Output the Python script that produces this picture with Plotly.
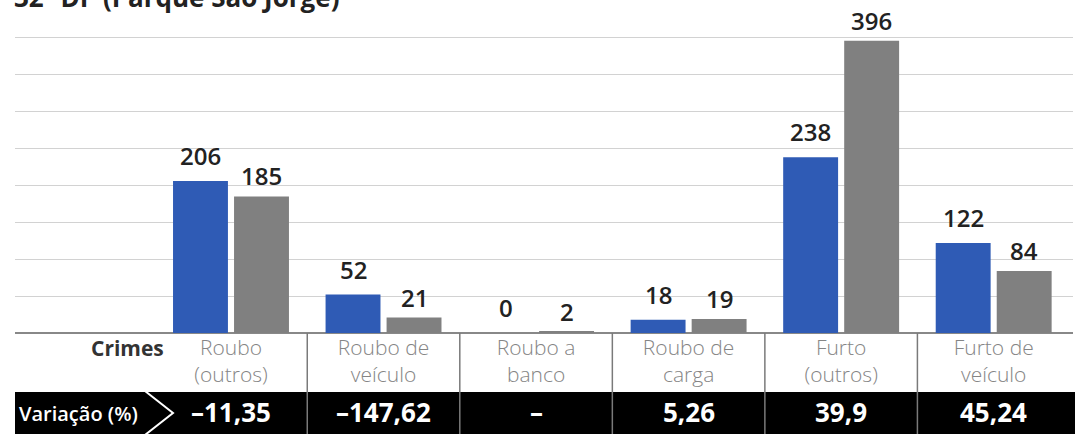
import plotly.graph_objects as go

title_text = "32º DP (Parque São Jorge)"
categories = ["Roubo<br>(outros)", "Roubo de<br>veículo", "Roubo a<br>banco",
              "Roubo de<br>carga", "Furto<br>(outros)", "Furto de<br>veículo"]
series_a = [206, 52, 0, 18, 238, 122]
series_b = [185, 21, 2, 19, 396, 84]
variation = ["–11,35", "–147,62", "–", "5,26", "39,9", "45,24"]

W, H = 1078, 434
ML, MR, MT, MB = 15, 5, 23, 101
PW, PH = W - ML - MR, H - MT - MB
FONT = "Open Sans"
BLUE = "#2f5bb5"
GRAY = "#808080"

xpos = list(range(len(categories)))

def py(ypx):
    return (H - MB - ypx) / PH

def px(xpx):
    return (xpx - ML) / PW

fig = go.Figure()
for vals, col in [(series_a, BLUE), (series_b, GRAY)]:
    fig.add_trace(go.Bar(
        x=xpos, y=vals, marker=dict(color=col, line=dict(width=0)),
        cliponaxis=False, showlegend=False, hoverinfo="skip"))

shapes = []
# black variation row
shapes.append(dict(type="rect", xref="paper", yref="paper",
                   x0=0, x1=px(1075), y0=py(392), y1=py(440),
                   fillcolor="black", line=dict(width=0), layer="above"))
# dividers
for i in range(len(categories) - 1):
    shapes.append(dict(type="line", xref="x", yref="paper",
                       x0=i + 0.5, x1=i + 0.5, y0=0, y1=py(440),
                       line=dict(color="#7a7a7a", width=1.5), layer="above"))
# chevron
shapes.append(dict(type="path", xref="paper", yref="paper",
                   path=f"M {px(145)} {py(391)} L {px(173)} {py(413)} L {px(145)} {py(435)}",
                   line=dict(color="white", width=2), layer="above"))

annotations = []
# value labels above bars
for vals, off, ys in [(series_a, -0.2, 7), (series_b, 0.2, 2)]:
    for i, v in enumerate(vals):
        annotations.append(dict(text=str(v), xref="x", yref="y", x=i + off, y=v,
                                xanchor="center", yanchor="bottom", yshift=ys,
                                showarrow=False,
                                font=dict(family=FONT, size=24, color="#222", weight=600)))
annotations.append(dict(text=title_text, xref="paper", yref="paper",
                        x=px(12), y=py(-3), xanchor="left", yanchor="middle",
                        showarrow=False,
                        font=dict(family=FONT, size=26, color="#222", weight="bold")))
annotations.append(dict(text="Crimes", xref="paper", yref="paper",
                        x=px(166), y=py(348), xanchor="right", yanchor="middle",
                        showarrow=False,
                        font=dict(family=FONT, size=21, color="#333", weight="bold")))
annotations.append(dict(text="Variação (%)", xref="paper", yref="paper",
                        x=px(17), y=py(413), xanchor="left", yanchor="middle",
                        showarrow=False,
                        font=dict(family=FONT, size=20, color="white", weight=600)))
for i, v in enumerate(variation):
    annotations.append(dict(text=v, xref="x", yref="paper", x=i, y=py(412),
                            xanchor="center", yanchor="middle", showarrow=False,
                            font=dict(family=FONT, size=26, color="white", weight="bold")))

fig.update_layout(
    width=W, height=H,
    margin=dict(l=ML, r=MR, t=MT, b=MB),
    paper_bgcolor="white", plot_bgcolor="white",
    barmode="group", bargap=0.2, bargroupgap=0.1,
    xaxis=dict(range=[-1.416, 5.52], tickvals=xpos, ticktext=categories,
               showgrid=False, zeroline=False, showline=False, ticks="",
               tickfont=dict(family=FONT, size=21, color="#858585", weight=300),
               fixedrange=True),
    yaxis=dict(range=[0, 420], dtick=50, showticklabels=False,
               gridcolor="#d2d2d2", gridwidth=1,
               zeroline=True, zerolinecolor="#888", zerolinewidth=1.5,
               fixedrange=True),
    shapes=shapes, annotations=annotations,
    font=dict(family=FONT),
)

fig.write_html("out.html", config={"displayModeBar": False},
               post_script="document.body.style.margin='0px';document.body.style.overflow='hidden';")
